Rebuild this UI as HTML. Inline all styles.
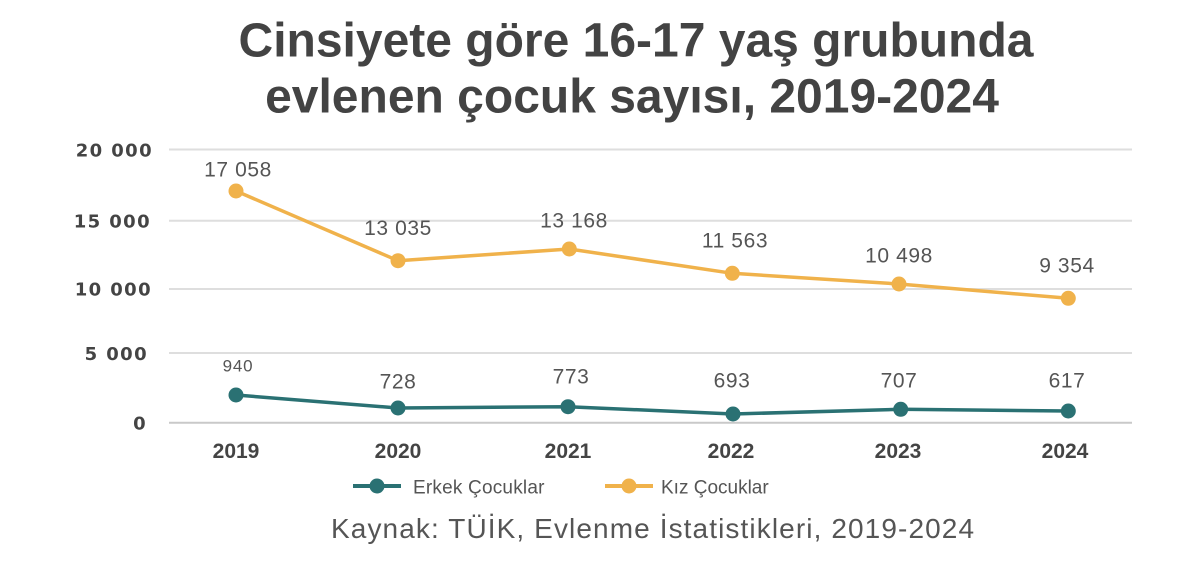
<!DOCTYPE html>
<html>
<head>
<meta charset="utf-8">
<style>
  html, body { margin:0; padding:0; background:#ffffff; }
  body { width:1200px; height:562px; overflow:hidden; }
  svg { display:block; }
</style>
</head>
<body>
<svg width="1200" height="562" viewBox="0 0 1200 562" xmlns="http://www.w3.org/2000/svg">
  <rect x="0" y="0" width="1200" height="562" fill="#ffffff"/>

  <!-- Title -->
  <g font-family="'Liberation Sans', Arial, sans-serif" font-weight="bold" font-size="48" fill="#434343" text-anchor="middle">
    <text x="636" y="56.5">Cinsiyete göre 16-17 yaş grubunda</text>
    <text x="632" y="112.5">evlenen çocuk sayısı, 2019-2024</text>
  </g>

  <!-- Gridlines -->
  <g stroke="#dedede" stroke-width="2">
    <line x1="169" y1="149.5" x2="1132" y2="149.5"/>
    <line x1="169" y1="220.7" x2="1132" y2="220.7"/>
    <line x1="169" y1="289" x2="1132" y2="289"/>
    <line x1="169" y1="353" x2="1132" y2="353"/>
  </g>
  <line x1="169" y1="422.7" x2="1132" y2="422.7" stroke="#c9c9c9" stroke-width="2"/>

  <!-- Y axis labels -->
  <g font-family="'DejaVu Sans', 'Liberation Sans', sans-serif" font-weight="bold" font-size="18" fill="#444444" text-anchor="end" letter-spacing="1.4">
    <text x="153" y="156.5">20 000</text>
    <text x="151" y="227.5">15 000</text>
    <text x="152" y="295.7">10 000</text>
    <text x="148" y="360">5 000</text>
    <text x="147" y="429.5">0</text>
  </g>

  <!-- X axis labels -->
  <g font-family="'Liberation Sans', Arial, sans-serif" font-weight="bold" font-size="21" fill="#444444" text-anchor="middle">
    <text x="236" y="458">2019</text>
    <text x="398" y="458">2020</text>
    <text x="568" y="458">2021</text>
    <text x="731" y="458">2022</text>
    <text x="898" y="458">2023</text>
    <text x="1065" y="458">2024</text>
  </g>

  <!-- Kız series (orange) -->
  <polyline fill="none" stroke="#F0B24B" stroke-width="3.5" stroke-linejoin="round"
    points="236,191 398,260.7 569.3,249 732.3,273.3 899,284 1068.3,298.3"/>
  <g fill="#F0B24B">
    <circle cx="236" cy="191" r="7.5"/>
    <circle cx="398" cy="260.7" r="7.5"/>
    <circle cx="569.3" cy="249" r="7.5"/>
    <circle cx="732.3" cy="273.3" r="7.5"/>
    <circle cx="899" cy="284" r="7.5"/>
    <circle cx="1068.3" cy="298.3" r="7.5"/>
  </g>

  <!-- Erkek series (teal) -->
  <polyline fill="none" stroke="#2A7173" stroke-width="3.5" stroke-linejoin="round"
    points="236,395 398,408 568,406.7 733,414 900.7,409.3 1068.3,411"/>
  <g fill="#2A7173">
    <circle cx="236" cy="395" r="7.5"/>
    <circle cx="398" cy="408" r="7.5"/>
    <circle cx="568" cy="406.7" r="7.5"/>
    <circle cx="733" cy="414" r="7.5"/>
    <circle cx="900.7" cy="409.3" r="7.5"/>
    <circle cx="1068.3" cy="411" r="7.5"/>
  </g>

  <!-- Data labels -->
  <g font-family="'Liberation Sans', Arial, sans-serif" font-size="21" fill="#555555" text-anchor="middle" letter-spacing="0.6">
    <text x="238" y="176.7">17 058</text>
    <text x="398" y="235">13 035</text>
    <text x="574" y="227.7">13 168</text>
    <text x="735" y="247.3">11 563</text>
    <text x="899" y="262.7">10 498</text>
    <text x="1067" y="272.7">9 354</text>
    <text x="398" y="388.3">728</text>
    <text x="571" y="383.3">773</text>
    <text x="732" y="387.7">693</text>
    <text x="899" y="387.7">707</text>
    <text x="1067" y="387.7">617</text>
  </g>
  <text x="238" y="371.7" font-family="'Liberation Sans', Arial, sans-serif" font-size="17" fill="#555555" text-anchor="middle" letter-spacing="0.8">940</text>

  <!-- Legend -->
  <line x1="353" y1="486" x2="401" y2="486" stroke="#2A7173" stroke-width="4"/>
  <circle cx="377" cy="486" r="7.5" fill="#2A7173"/>
  <text x="413" y="493.3" font-family="'Liberation Sans', Arial, sans-serif" font-size="19" fill="#555555" letter-spacing="0.2">Erkek Çocuklar</text>

  <line x1="605" y1="486" x2="653" y2="486" stroke="#F0B24B" stroke-width="4"/>
  <circle cx="629" cy="486" r="7.5" fill="#F0B24B"/>
  <text x="661" y="493.3" font-family="'Liberation Sans', Arial, sans-serif" font-size="19" fill="#555555">Kız Çocuklar</text>

  <!-- Source -->
  <text x="331" y="538" font-family="'Liberation Sans', Arial, sans-serif" font-size="28" fill="#555555" letter-spacing="1.1">Kaynak: TÜİK, Evlenme İstatistikleri, 2019-2024</text>
</svg>
</body>
</html>
